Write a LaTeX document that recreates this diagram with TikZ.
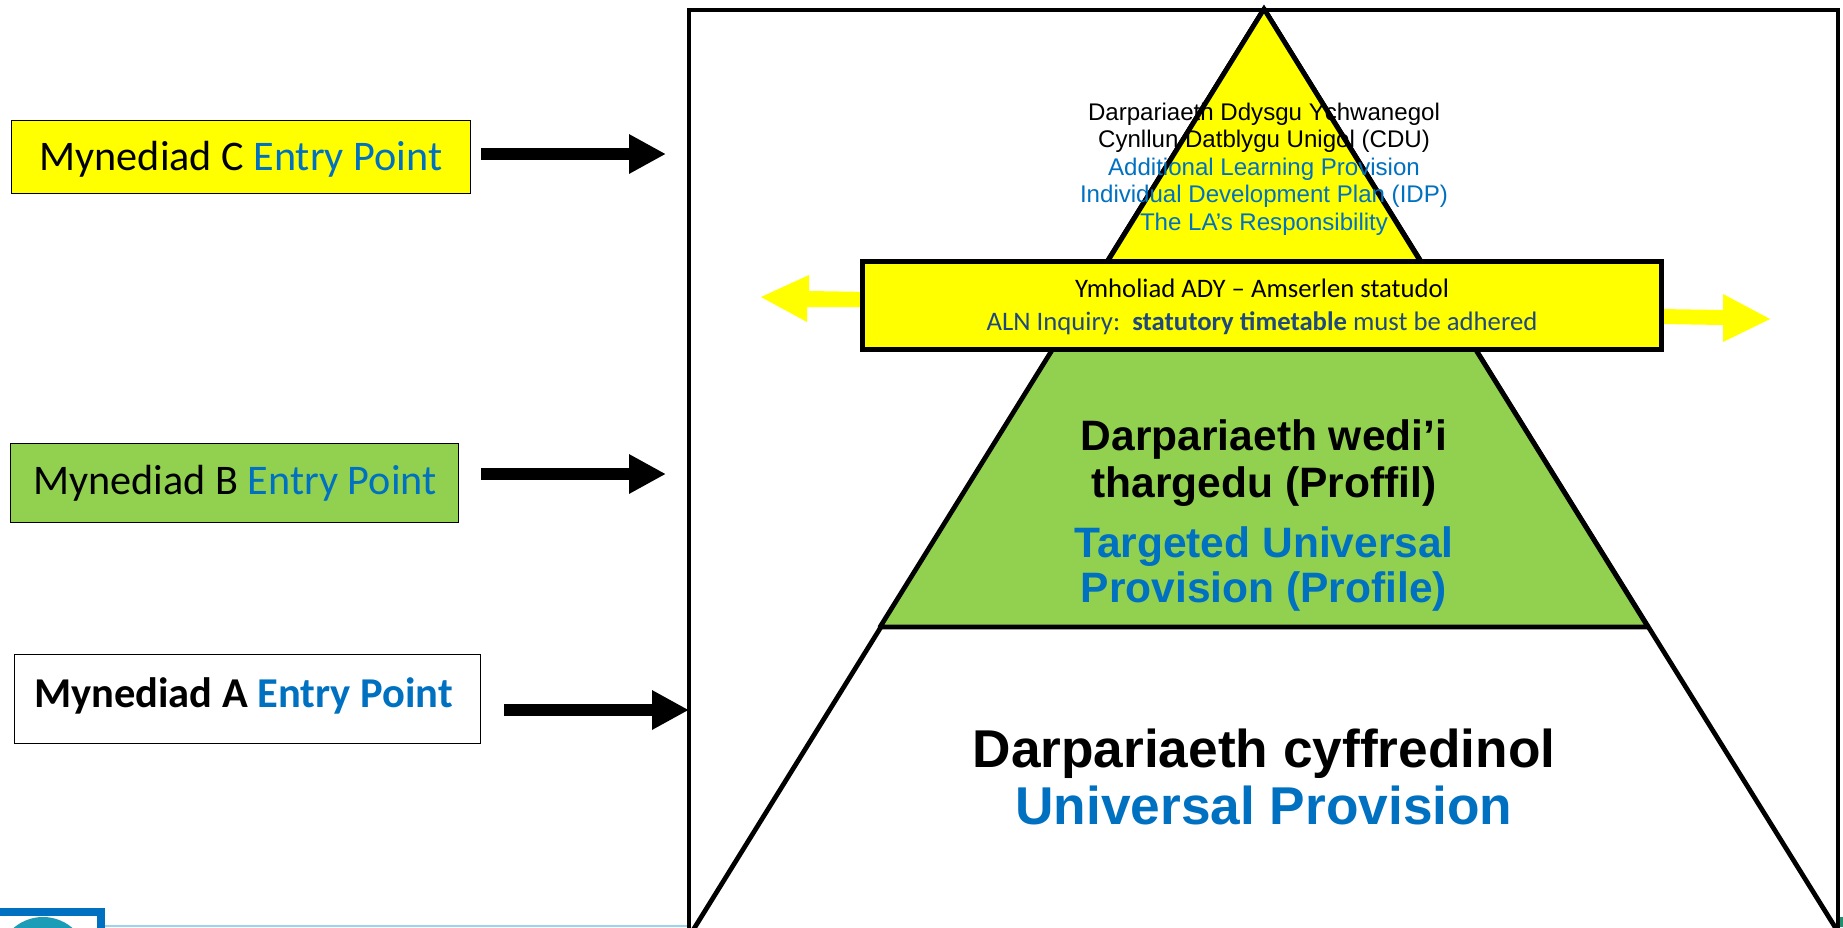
\documentclass[tikz,border=0pt]{standalone}
\usepackage{fontspec}
\setmainfont{Liberation Sans}
\newfontfamily\calibrifont{Carlito}
\usetikzlibrary{arrows.meta}
\definecolor{entryblue}{HTML}{0070C0}
\definecolor{provgreen}{HTML}{92D050}
\definecolor{pureyellow}{HTML}{FFFF00}
\definecolor{inquiryblue}{HTML}{1F497D}
\definecolor{logoline}{HTML}{9DD3F0}
\definecolor{logoteal}{HTML}{1B9DB8}
\definecolor{cornergreen}{HTML}{1E9070}
\tikzset{
    entrybox/.style={draw=black, line width=0.6pt},
    entrylabel/.style={font=\calibrifont\fontsize{24}{28}\selectfont},
    entryarrow/.style={line width=7pt, -{Triangle[length=21pt,width=21pt]}},
    thickline/.style={draw=black, line width=2.7pt},
    wing/.style={fill=pureyellow},
}

\begin{document}
\begin{tikzpicture}[x=0.02cm, y=-0.02cm]
    \useasboundingbox (0, 0) rectangle (1843, 927);
    \path[clip] (0, 0) rectangle (1843, 927);

    % logo corner
    \draw[logoline, line width=1pt] (100, 926) -- (688, 926);
    \draw[entryblue, line width=5pt, fill=white] (-10, 912) rectangle (101, 960);
    \fill[logoteal] (43, 962) circle (45);
    \fill[cornergreen] (1840, 917) rectangle (1843, 927);

    % outer frame and pyramid
    \draw[thickline] (689, 10) rectangle (1838, 1000);
    \draw[thickline, fill=white] (1264, 9) -- (695, 927) -- (685, 943) -- (1845, 943) -- (1835, 927) -- cycle;
    \draw[thickline, fill=provgreen, line join=round] (1264, 9) -- (880, 627) -- (1648, 627) -- cycle;
    \draw[thickline, fill=pureyellow, line join=round] (1264, 9) -- (1075, 314) -- (1453, 314) -- cycle;

    % yellow arrows behind the banner
    \fill[wing] (870, 292) -- (809, 291) -- (809, 275) -- (761, 297) -- (807, 322) -- (807, 307) -- (870, 307) -- cycle;
    \fill[wing] (1660, 309) -- (1723, 310) -- (1723, 294) -- (1770, 319) -- (1723, 342) -- (1723, 325) -- (1660, 324) -- cycle;

    % texts of the pyramid
    \node[align=center, font=\fontsize{13.7}{15.6}\selectfont] (topText) at (1264, 169)
	{Darpariaeth Ddysgu Ychwanegol\\ Cynllun Datblygu Unigol (CDU)\\
	\textcolor{entryblue}{Additional Learning Provision}\\
	\textcolor{entryblue}{Individual Development Plan (IDP)}\\
	\textcolor{entryblue}{The LA's Responsibility}};
    \node[thickline, fill=pureyellow, minimum width=454.5pt, minimum height=50.5pt] (inquiryBox) at (1262, 305.5) {};
    \node[font=\calibrifont\fontsize{15.2}{18}\selectfont] (inquiryCy) at (1262, 288) {Ymholiad ADY – Amserlen statudol};
    \node[font=\calibrifont\fontsize{15.2}{18}\selectfont, text=inquiryblue] (inquiryEn) at (1262, 323) {ALN Inquiry:\ \ \textbf{statutory timetable} must be adhered};
    \node[align=center, font=\bfseries\fontsize{24.2}{26.6}\selectfont] (targetCy) at (1264, 463) {Darpariaeth wedi’i\\ thargedu (Proffil)};
    \node[align=center, font=\bfseries\fontsize{24.2}{25.6}\selectfont, text=entryblue] (targetEn) at (1264, 569) {Targeted Universal\\ Provision (Profile)};
    \node[font=\bfseries\fontsize{30.3}{34}\selectfont] (universalCy) at (1264, 754) {Darpariaeth cyffredinol};
    \node[font=\bfseries\fontsize{30.3}{34}\selectfont, text=entryblue] (universalEn) at (1264, 805) {Universal Provision};

    % entry points
    \node[entrybox, fill=pureyellow, minimum width=261pt, minimum height=42pt] (entryC) at (241, 157) {};
    \node[entrylabel] (labelC) at (241, 159) {Mynediad C \textcolor{entryblue}{Entry Point}};
    \node[entrybox, fill=provgreen, minimum width=254.5pt, minimum height=45pt] (entryB) at (234.5, 483) {};
    \node[entrylabel] (labelB) at (235, 483) {Mynediad B \textcolor{entryblue}{Entry Point}};
    \node[entrybox, fill=white, minimum width=265.5pt, minimum height=50.5pt] (entryA) at (247.5, 699) {};
    \node[entrylabel, font=\calibrifont\bfseries\fontsize{24.2}{28}\selectfont] (labelA) at (243.5, 695.5) {Mynediad A \textcolor{entryblue}{Entry Point}};

    \coordinate (toC) at (666, 154);
    \coordinate (toB) at (666, 474);
    \coordinate (toA) at (689, 710);
    \draw[entryarrow, shorten <=6pt] (entryC.east |- toC) -- (toC);
    \draw[entryarrow, shorten <=13pt] (entryB.east |- toB) -- (toB);
    \draw[entryarrow, shorten <=13pt] (entryA.east |- toA) -- (toA);
\end{tikzpicture}
\end{document}
